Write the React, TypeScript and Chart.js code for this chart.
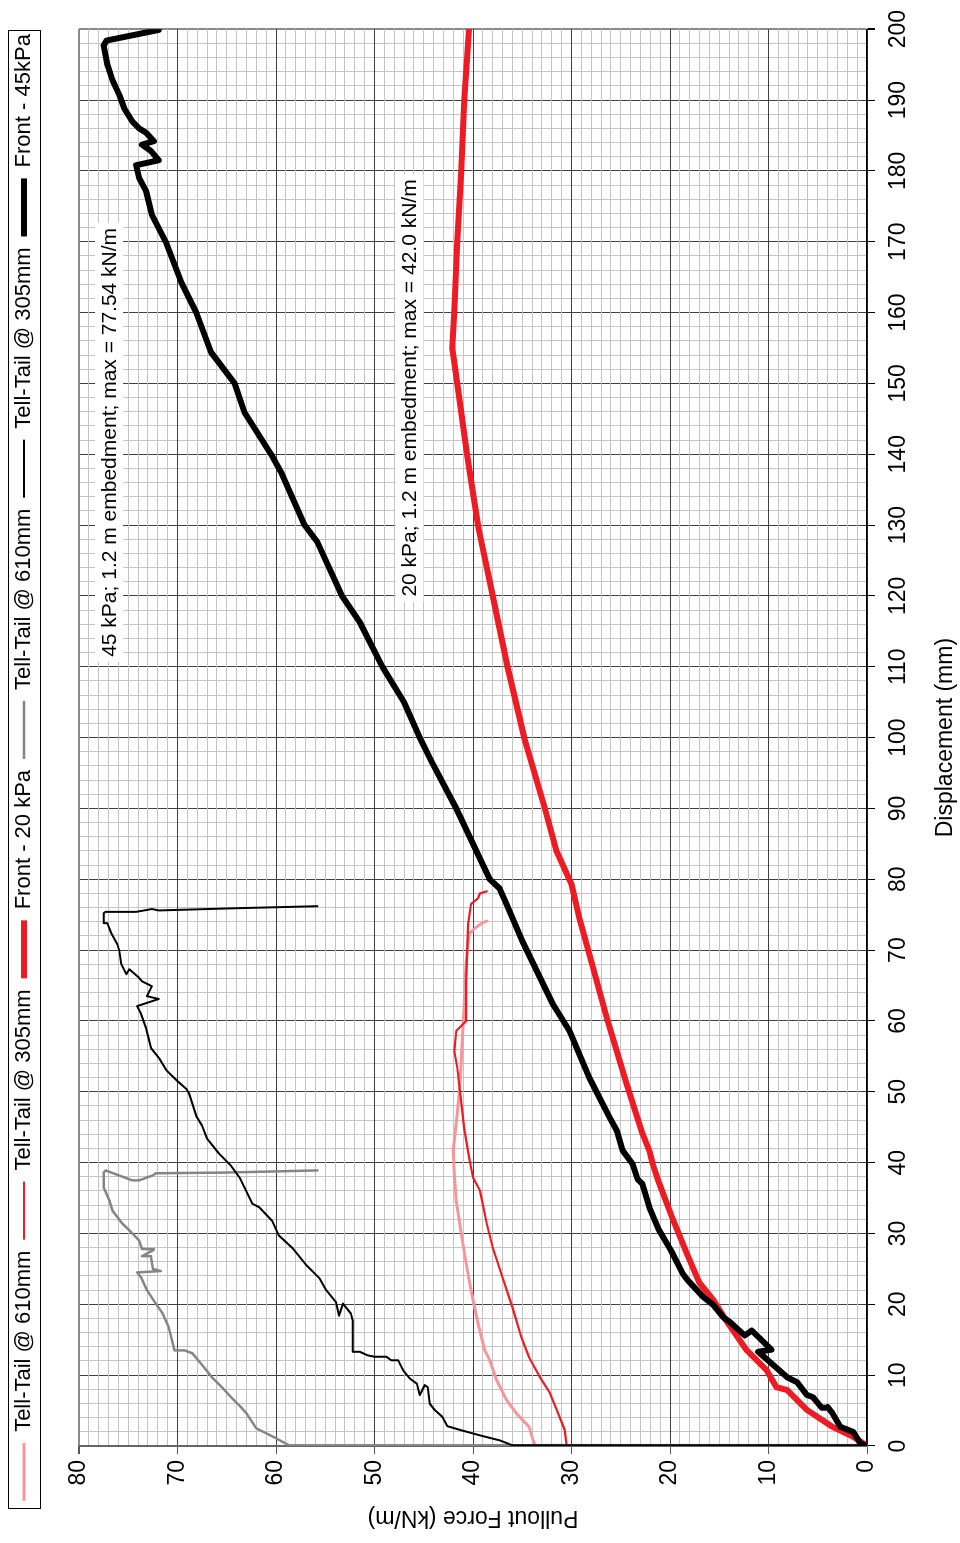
import React, { useEffect, useRef } from 'react';
import { Chart, registerables } from 'chart.js';

Chart.register(...registerables);

// ---------- data (displacement in mm, pullout force in kN/m) ----------
const seriesLabels = [
  'Tell-Tail @ 610mm',
  'Tell-Tail @ 305mm',
  'Front - 20 kPa',
  'Tell-Tail @ 610mm',
  'Tell-Tail @ 305mm',
  'Front - 45kPa',
];

// 20 kPa, tell-tail @ 610 mm (pink)
const tt610kPa20Disp = [0, 0.1, 0.8, 2.7, 4.6, 6.5, 9.3, 12.1, 13.5, 17.3, 22, 25.8, 30, 34.6, 38.5, 41.7, 46.9, 51.5, 57.2, 62.4, 68, 72.3, 73.1, 73.8, 74.1];
const tt610kPa20Force = [0, 33.7, 33.9, 34.3, 35.6, 36.6, 37.6, 38.3, 38.8, 39.5, 40.2, 40.7, 41.2, 41.7, 41.9, 42, 41.6, 41.3, 41.1, 40.9, 40.7, 40.4, 39.8, 39.1, 38.6];

// 20 kPa, tell-tail @ 305 mm (red thin)
const tt305kPa20Disp = [0, 0.1, 2.3, 5.1, 7.5, 9.7, 12.5, 15.4, 19.6, 23.8, 28, 31.4, 36.1, 37.9, 40.7, 44.9, 48.7, 53.4, 55.8, 58.6, 59.3, 60, 65.6, 73.7, 76.5, 77.3, 78, 78.3];
const tt305kPa20Force = [0, 30.5, 30.7, 31.5, 32.2, 33.2, 34.3, 35.1, 36, 37, 38, 38.6, 39.3, 40, 40.4, 40.9, 41.2, 41.6, 41.9, 41.7, 41.2, 40.7, 40.7, 40.5, 40.2, 39.5, 39.3, 38.6];

// 20 kPa, front (red thick)
const frontKPa20Disp = [0, 0.4, 1.3, 2.7, 5.1, 7.9, 8.3, 10.7, 13.5, 17.7, 20.6, 23, 27.2, 32.3, 37.5, 39.8, 41.7, 44.1, 51.1, 60.4, 68.5, 74.5, 79.3, 83.9, 90, 100, 110, 120, 130, 140, 150, 155, 160, 170, 180, 190, 200];
const frontKPa20Force = [0, 0.4, 1.4, 3.5, 6.1, 8.1, 9.2, 10.2, 12.2, 14.3, 15.6, 17, 18.3, 19.8, 21.2, 21.75, 22.1, 22.8, 24.4, 26.4, 28, 29.2, 30, 31.5, 32.7, 34.8, 36.5, 38, 39.5, 40.6, 41.6, 42.1, 41.9, 41.6, 41.2, 40.9, 40.4];

// 45 kPa, tell-tail @ 610 mm (gray)
const tt610kPa45Disp = [0, 0.1, 1.1, 2.5, 4.6, 5.4, 6.8, 8.3, 9.7, 11.1, 13.1, 13.5, 13.5, 16.8, 18.7, 20.1, 22, 23.8, 24.5, 24.7, 25, 26.7, 26.8, 27.7, 27.8, 29, 30.2, 31.4, 32.3, 33.2, 34.6, 36.5, 38.6, 38.9, 37.5, 37.5, 38.2, 38.5, 38.6, 38.9];
const tt610kPa45Force = [0, 58.7, 60, 62, 63, 63.5, 64.5, 65.5, 66.5, 67.3, 68.5, 69.3, 70.3, 70.9, 71.5, 72.2, 73.1, 73.7, 74.1, 71.7, 72.5, 72.7, 73.6, 72.4, 73.6, 73.9, 74.7, 75.6, 76.1, 76.6, 76.9, 77.5, 77.5, 77.3, 74.6, 73.9, 72.5, 72.2, 65.1, 55.8];

// 45 kPa, tell-tail @ 305 mm (black thin)
const tt305kPa45Disp = [0, 0.1, 0.8, 1.5, 2.3, 2.8, 4.1, 5.1, 6, 8.3, 8.6, 7.2, 8.8, 9.5, 10.7, 12.1, 12.1, 12.6, 12.6, 12.8, 13.3, 13.3, 17.7, 18.7, 20.1, 18.4, 20.3, 22, 23.7, 25.5, 27.9, 29.7, 31.8, 33.7, 34.2, 37.9, 39.6, 41.3, 43.4, 45.2, 46.6, 49.7, 50.4, 51.5, 53, 54.8, 56.2, 59, 61, 62.1, 63.1, 63.5, 64.9, 65.6, 66.1, 67.3, 66.6, 68, 69.9, 70.8, 72.3, 73.7, 73.8, 75.2, 75.4, 75.4, 75.8, 75.6, 75.9, 76.2];
const tt305kPa45Force = [0, 36, 37.3, 39.3, 41.4, 42.6, 43.1, 43.9, 44.4, 44.6, 44.9, 45.4, 45.7, 46.4, 47.1, 47.6, 48.3, 48.8, 50, 50.7, 51.5, 52.2, 52.2, 52.4, 53.2, 53.6, 53.9, 54.9, 55.6, 56.9, 58.3, 59.7, 60.4, 61.7, 62.4, 63.7, 64.6, 65.8, 67, 67.5, 68.1, 68.8, 69.1, 70, 71.1, 71.9, 72.7, 73.2, 73.7, 74.1, 71.9, 73.1, 72.6, 73.6, 73.9, 74.9, 75.2, 75.7, 75.9, 76.1, 76.7, 77.1, 77.5, 77.5, 77.3, 74.2, 72.6, 71.9, 64.4, 55.8];

// 45 kPa, front (black thick)
const frontKPa45Disp = [0, 0.4, 2, 2.7, 4.6, 5.5, 5.4, 6.9, 7.2, 9, 9.7, 13.3, 13.6, 16.3, 15.6, 17.3, 18.2, 19.9, 21, 23.4, 24.3, 27.6, 30.7, 33.7, 37, 37.7, 39.8, 41.7, 44.5, 46.3, 52, 58.6, 62.4, 67, 71.3, 76.5, 78.7, 80, 90, 96.6, 100, 105, 110, 116.3, 120, 127.6, 130, 137.5, 140, 145.9, 150, 154.4, 160, 164.2, 170, 173.8, 177.2, 179, 180.8, 181.5, 182.8, 183.7, 184.2, 185.4, 186, 187, 188.8, 190.7, 192.8, 194.9, 197.7, 198.4, 199.9];
const frontKPa45Force = [0, 0.7, 1.4, 2.7, 3.5, 4, 4.6, 5.5, 6.1, 7.1, 8.1, 11.05, 9.7, 11.7, 12.4, 13.75, 14.6, 15.6, 16.6, 18.2, 18.7, 19.9, 21.2, 22.1, 22.8, 23.3, 23.8, 24.8, 25.4, 26.1, 28.2, 30.2, 31.9, 33.5, 35, 36.6, 37.3, 38.3, 41.7, 44.2, 45.4, 47, 49.2, 51.5, 53.3, 55.8, 57.1, 59.5, 60.5, 63.2, 64.2, 66.6, 68.1, 69.6, 71.2, 72.6, 73.2, 73.9, 74.2, 71.9, 72.7, 73.6, 72.4, 73.2, 73.9, 74.6, 75.4, 75.9, 76.6, 77.1, 77.5, 77.2, 71.9];

// axis tick labels
const forceTickLabels = [0, 10, 20, 30, 40, 50, 60, 70, 80];
const dispTickLabels = [0, 10, 20, 30, 40, 50, 60, 70, 80, 90, 100, 110, 120, 130, 140, 150, 160, 170, 180, 190, 200];

// text notes on the plot
const noteTexts = [
  '45 kPa; 1.2 m embedment; max = 77.54 kN/m',
  '20 kPa; 1.2 m embedment; max = 42.0 kN/m',
];

// ---------- helpers ----------
const pts = (xs: number[], ys: number[]) => xs.map((x, i) => ({ x, y: ys[i] }));

const FONT = "'Liberation Sans', Arial, Helvetica, sans-serif";
const MAJOR = '#404040';
const MINOR = '#c4c4c4';
const FRAME = '#8a8a8a';
const LEGEND_SHIFT = 17;

const legendPatch = {
  id: 'legendPatch',
  beforeUpdate(chart: any) {
    const lg = chart.legend;
    if (lg && !lg.__patched) {
      const orig = lg.fit;
      lg.fit = function () {
        orig.call(this);
        this.height += 34;
      };
      lg.__patched = true;
    }
  },
  afterUpdate(chart: any) {
    const lg = chart.legend;
    if (!lg) return;
    lg.left += LEGEND_SHIFT;
    lg.right += LEGEND_SHIFT;
    (lg.legendHitBoxes || []).forEach((b: any) => {
      b.left += LEGEND_SHIFT;
    });
  },
  afterDraw(chart: any) {
    const lg = chart.legend;
    if (!lg || !lg.legendHitBoxes || !lg.legendHitBoxes.length) return;
    const hb = lg.legendHitBoxes;
    let l = Infinity, r = -Infinity;
    hb.forEach((b: any) => {
      l = Math.min(l, b.left);
      r = Math.max(r, b.left + b.width);
    });
    const ctx = chart.ctx;
    ctx.save();
    ctx.strokeStyle = '#000';
    ctx.lineWidth = 1;
    ctx.strokeRect(Math.round(l - 8) + 0.5, 8.5, Math.round(r - l + 11), 32);
    ctx.restore();
  },
};

const notesPlugin = {
  id: 'notes',
  afterDatasetsDraw(chart: any) {
    const xs = chart.scales.x;
    const ys = chart.scales.y;
    const anchors = [
      [111.4, 76.95],
      [119.9, 46.45],
    ];
    const ctx = chart.ctx;
    ctx.save();
    ctx.font = `21px ${FONT}`;
    ctx.textBaseline = 'middle';
    ctx.textAlign = 'left';
    noteTexts.forEach((t, i) => {
      const px = xs.getPixelForValue(anchors[i][0]);
      const py = ys.getPixelForValue(anchors[i][1]);
      const w = ctx.measureText(t).width;
      ctx.fillStyle = '#fff';
      ctx.fillRect(px - 5, py - 14, w + 10, 28);
      ctx.fillStyle = '#000';
      ctx.fillText(t, px, py + 1);
    });
    ctx.restore();
  },
};

export default function App() {
  const canvasRef = useRef<HTMLCanvasElement | null>(null);

  useEffect(() => {
    if (!canvasRef.current) return;
    const mk = (
      i: number,
      xs: number[],
      ys: number[],
      color: string,
      width: number,
      order: number
    ) => ({
      label: seriesLabels[i],
      data: pts(xs, ys),
      showLine: true,
      borderColor: color,
      backgroundColor: color,
      borderWidth: width,
      pointRadius: 0,
      pointHoverRadius: 0,
      tension: 0,
      borderCapStyle: 'round',
      borderJoinStyle: 'round',
      order,
    });

    const chart = new Chart(canvasRef.current, {
      type: 'scatter',
      data: {
        datasets: [
          mk(0, tt610kPa20Disp, tt610kPa20Force, '#f4969b', 3, 6),
          mk(1, tt305kPa20Disp, tt305kPa20Force, '#ed1c24', 2.2, 5),
          mk(2, frontKPa20Disp, frontKPa20Force, '#ed1c24', 6, 4),
          mk(3, tt610kPa45Disp, tt610kPa45Force, '#858585', 2.5, 3),
          mk(4, tt305kPa45Disp, tt305kPa45Force, '#000000', 2, 2),
          mk(5, frontKPa45Disp, frontKPa45Force, '#000000', 6, 1),
        ] as any,
      },
      options: {
        responsive: false,
        animation: false,
        events: [],
        devicePixelRatio: 1,
        layout: { padding: { top: 2, right: 26, bottom: 0, left: 0 } },
        plugins: {
          legend: {
            display: true,
            position: 'top',
            align: 'center',
            labels: {
              usePointStyle: true,
              pointStyle: 'line',
              pointStyleWidth: 58,
              boxHeight: 22,
              padding: 11,
              color: '#000',
              font: { family: FONT, size: 22 },
              sort: (a: any, b: any) => a.datasetIndex - b.datasetIndex,
            },
          },
          tooltip: { enabled: false },
        },
        scales: {
          x: {
            type: 'linear',
            position: 'bottom',
            min: 0,
            max: 200,
            afterFit: (s: any) => {
              s.height = 93;
            },
            ticks: {
              stepSize: 2,
              autoSkip: false,
              maxRotation: 0,
              minRotation: 0,
              padding: 10,
              color: '#000',
              font: { family: FONT, size: 23 },
              callback: (v: any) => (dispTickLabels.includes(Number(v)) ? String(v) : ''),
            },
            grid: {
              color: (c: any) => {
                const v = c.tick ? c.tick.value : 0;
                if (v === 200) return FRAME;
                return v % 10 === 0 ? MAJOR : MINOR;
              },
              lineWidth: (c: any) => {
                const v = c.tick ? c.tick.value : 0;
                return v === 200 ? 2 : 1;
              },
              tickLength: 8,
              tickColor: (c: any) => {
                const v = c.tick ? c.tick.value : 0;
                return v % 10 === 0 ? '#000' : 'rgba(0,0,0,0)';
              },
            },
            border: { color: '#000', width: 1.5 },
            title: {
              display: true,
              text: 'Displacement (mm)',
              color: '#000',
              font: { family: FONT, size: 23 },
              padding: { top: 4, bottom: 1 },
            },
          },
          y: {
            type: 'linear',
            position: 'left',
            min: 0,
            max: 80,
            afterFit: (s: any) => {
              s.width = 97;
            },
            ticks: {
              stepSize: 1,
              autoSkip: false,
              padding: 6,
              color: '#000',
              font: { family: FONT, size: 23 },
              callback: (v: any) => (forceTickLabels.includes(Number(v)) ? String(v) : ''),
            },
            grid: {
              color: (c: any) => {
                const v = c.tick ? c.tick.value : 0;
                if (v === 80) return FRAME;
                return v % 10 === 0 ? MAJOR : MINOR;
              },
              lineWidth: (c: any) => {
                const v = c.tick ? c.tick.value : 0;
                return v === 80 ? 2 : 1;
              },
              tickLength: 8,
              tickColor: (c: any) => {
                const v = c.tick ? c.tick.value : 0;
                return v % 10 === 0 ? '#555' : 'rgba(0,0,0,0)';
              },
            },
            border: { color: '#666', width: 2 },
            title: {
              display: true,
              text: 'Pullout Force (kN/m)',
              color: '#000',
              font: { family: FONT, size: 23 },
              padding: { top: 12, bottom: 0 },
            },
          },
        },
      },
      plugins: [legendPatch, notesPlugin],
    } as any);

    return () => chart.destroy();
  }, []);

  return (
    <div
      style={{
        position: 'absolute',
        left: 0,
        top: 0,
        width: 960,
        height: 1543,
        overflow: 'hidden',
        background: '#fff',
      }}
    >
      <div
        style={{
          position: 'absolute',
          left: 0,
          top: 0,
          width: 1543,
          height: 960,
          transformOrigin: '0 0',
          transform: 'translate(0px, 1543px) rotate(-90deg)',
        }}
      >
        <canvas
          ref={canvasRef}
          width={1543}
          height={960}
          style={{ display: 'block', width: 1543, height: 960 }}
        />
      </div>
    </div>
  );
}
